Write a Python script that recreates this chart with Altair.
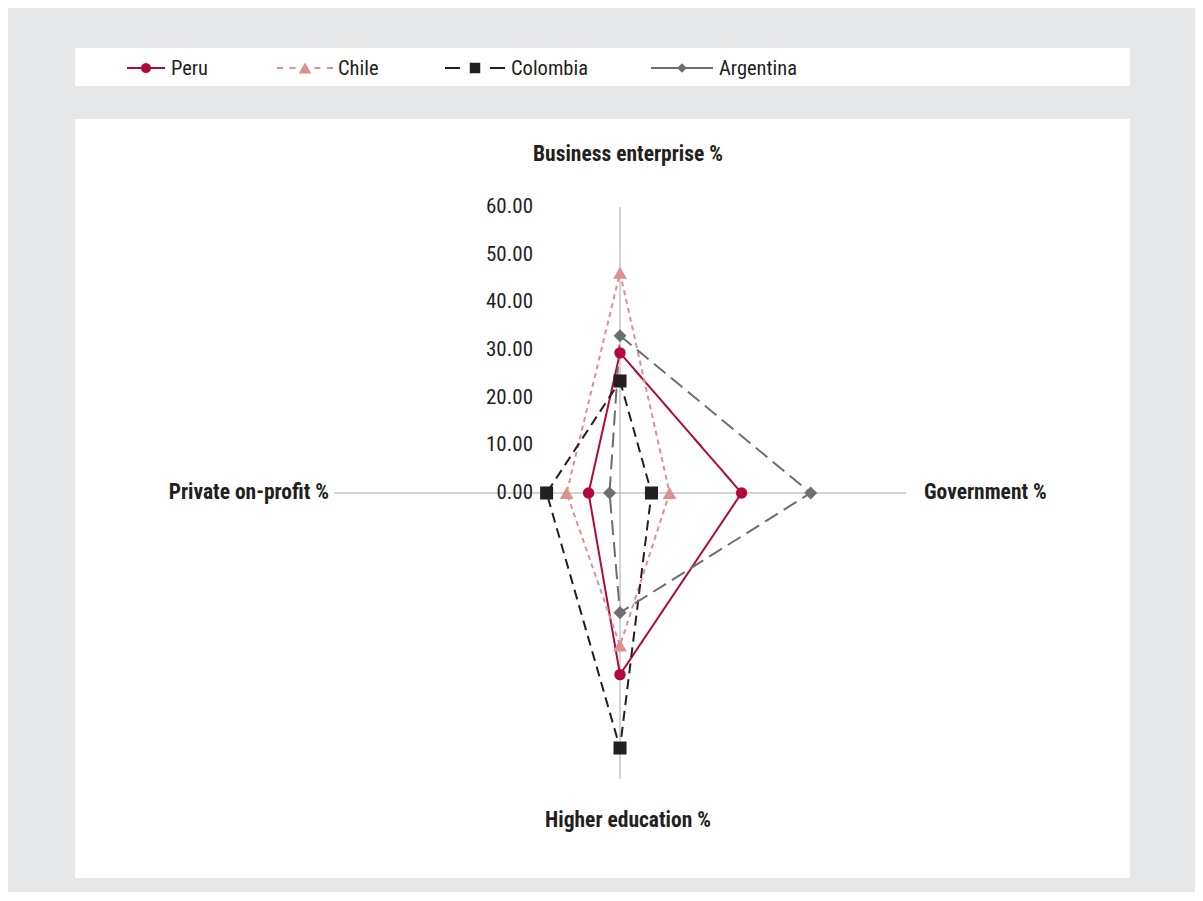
import altair as alt
import pandas as pd

# ---------------- data ----------------
categories = ["Business enterprise %", "Government %", "Higher education %", "Private on-profit %"]
series = ["Peru", "Chile", "Colombia", "Argentina"]
peru = [29.4, 25.5, 38.1, 6.6]
chile = [46.2, 10.4, 32.0, 11.2]
colombia = [23.5, 6.6, 53.5, 15.4]
argentina = [33.0, 40.0, 25.1, 2.2]
tick_values = [0, 10, 20, 30, 40, 50, 60]
tick_labels = ["0.00", "10.00", "20.00", "30.00", "40.00", "50.00", "60.00"]
axis_max = 60

# ---------------- styles ----------------
FONT = "'Liberation Sans Narrow', 'Arial Narrow', 'Roboto Condensed', Roboto, sans-serif"
TXT = "#231f20"
colors = ["#b5083a", "#dc918d", "#231f20", "#6d6e71"]
shapes = ["circle", "triangle-up", "square", "diamond"]
sizes = [130, 190, 170, 170]
dash_plot = [[1, 0], [5, 4], [10, 6], [15, 7]]
dash_legend = [[1, 0], [6, 6.5], [15, 30], [1, 0]]
legend_sizes = [105, 160, 110, 95]
# legend layout (pixels inside the legend panel): line start, line end, label x
legend_layout = [(52, 90, 96), (202, 258, 263), (370, 430, 436), (576, 638, 644)]

W, H = 1055, 759
xscale = alt.Scale(domain=[-114.34, 106.99], nice=False, zero=False)
yscale = alt.Scale(domain=[-80.77, 78.46], nice=False, zero=False)

values = {"Peru": peru, "Chile": chile, "Colombia": colombia, "Argentina": argentina}
rows = []
for s in series:
    for i, (c, v) in enumerate(zip(categories, values[s])):
        rows.append({"series": s, "category": c, "idx": i, "value": v})
df = pd.DataFrame(rows)

axes_df = pd.DataFrame({"category": categories, "idx": list(range(len(categories)))})
ticks_df = pd.DataFrame({"v": tick_values, "label": tick_labels})

polar = dict(
    x="datum.value * sin(datum.idx * PI / 2)",
    y="datum.value * cos(datum.idx * PI / 2)",
)

# axis spokes
spokes = alt.Chart(axes_df).transform_calculate(
    x0="0", y0="0",
    x1=f"{axis_max} * sin(datum.idx * PI / 2)",
    y1=f"{axis_max} * cos(datum.idx * PI / 2)",
).mark_rule(color="#a7a9ac", strokeWidth=1).encode(
    x=alt.X("x0:Q", scale=xscale, axis=None),
    y=alt.Y("y0:Q", scale=yscale, axis=None),
    x2="x1:Q", y2="y1:Q",
)

# tick labels along top spoke
tick_text = alt.Chart(ticks_df).transform_calculate(x0="0").mark_text(
    align="right", baseline="middle", dx=-87, font=FONT, fontSize=21, color=TXT
).encode(
    x=alt.X("x0:Q", scale=xscale, axis=None),
    y=alt.Y("v:Q", scale=yscale, axis=None),
    text="label:N",
)

# category labels
label_offsets = [
    dict(align="center", baseline="middle", dx=8, dy=-52),
    dict(align="left", baseline="middle", dx=18, dy=0),
    dict(align="center", baseline="middle", dx=8, dy=42),
    dict(align="right", baseline="middle", dx=-5, dy=0),
]
cat_layers = []
for i, c in enumerate(categories):
    d = pd.DataFrame({"category": [c], "idx": [i]})
    cat_layers.append(
        alt.Chart(d).transform_calculate(
            x=f"{axis_max} * sin(datum.idx * PI / 2)",
            y=f"{axis_max} * cos(datum.idx * PI / 2)",
        ).mark_text(font=FONT, fontSize=21.5, fontWeight="bold", color=TXT, **label_offsets[i]).encode(
            x=alt.X("x:Q", scale=xscale, axis=None),
            y=alt.Y("y:Q", scale=yscale, axis=None),
            text="category:N",
        )
    )

line_layers = []
point_layers = []
for k, s in enumerate(series):
    base = alt.Chart(df[df.series == s]).transform_calculate(**polar)
    line_layers.append(
        base.mark_line(
            interpolate="linear-closed", color=colors[k], strokeWidth=2,
            strokeDash=dash_plot[k],
        ).encode(
            x=alt.X("x:Q", scale=xscale, axis=None),
            y=alt.Y("y:Q", scale=yscale, axis=None),
            order="idx:Q",
        )
    )
    point_layers.append(
        base.mark_point(
            shape=shapes[k], filled=True, opacity=1, color=colors[k], size=sizes[k]
        ).encode(
            x=alt.X("x:Q", scale=xscale, axis=None),
            y=alt.Y("y:Q", scale=yscale, axis=None),
        )
    )

radar = alt.layer(spokes, *line_layers, *point_layers, tick_text, *cat_layers).properties(
    width=W, height=H
)

# legend panel
lx = alt.Scale(domain=[0, W], nice=False, zero=False)
leg_layers = []
for k, s in enumerate(series):
    x0, x1, xl = legend_layout[k]
    d = pd.DataFrame({"series": [s], "a": [x0], "b": [x1], "m": [(x0 + x1) / 2], "t": [xl]})
    c = alt.Chart(d)
    leg_layers.append(
        c.mark_rule(color=colors[k], strokeWidth=2, strokeDash=dash_legend[k]).encode(
            x=alt.X("a:Q", scale=lx, axis=None), x2="b:Q", y=alt.value(20)
        )
    )
    leg_layers.append(
        c.mark_point(shape=shapes[k], filled=True, opacity=1, color=colors[k], size=legend_sizes[k]).encode(
            x=alt.X("m:Q", scale=lx, axis=None), y=alt.value(20)
        )
    )
    leg_layers.append(
        c.mark_text(align="left", baseline="middle", font=FONT, fontSize=20.5, color=TXT, dy=1).encode(
            x=alt.X("t:Q", scale=lx, axis=None), y=alt.value(20), text="series:N"
        )
    )
legend = alt.layer(*leg_layers).properties(width=W, height=38)

chart = alt.vconcat(legend, radar, spacing=33).properties(
    background="#e6e7e8",
    padding={"left": 67, "top": 40, "right": 65, "bottom": 14},
).configure_view(fill="white", strokeWidth=0)

chart.save("out.html", embed_options={"renderer": "svg", "actions": False})
